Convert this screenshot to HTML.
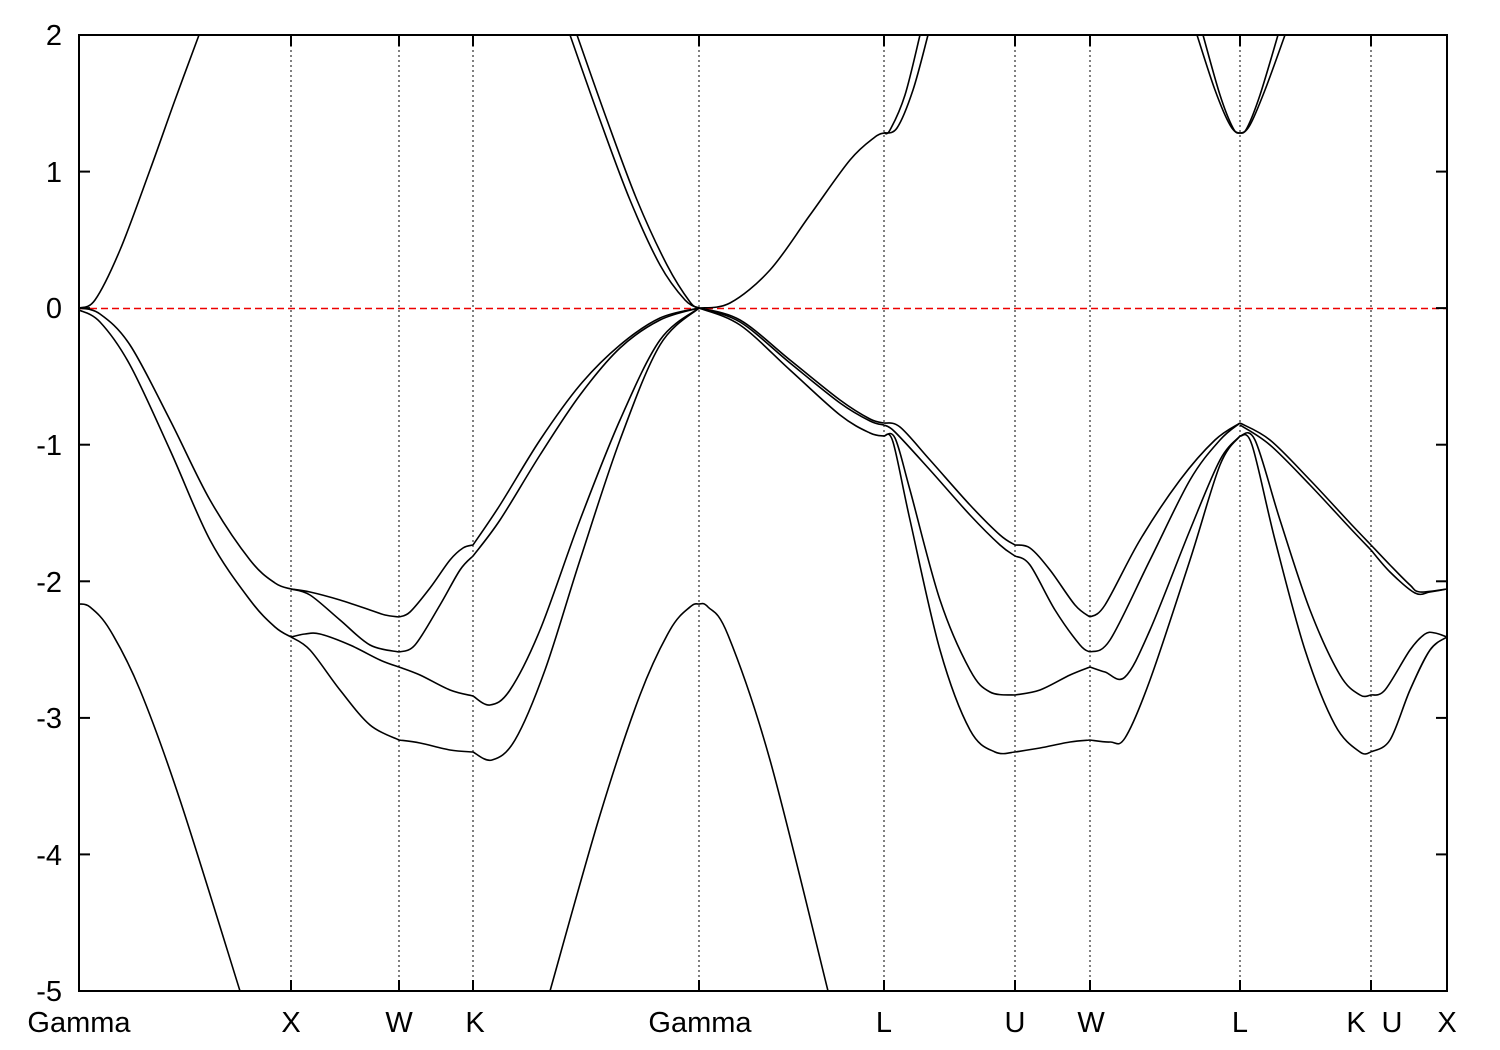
<!DOCTYPE html>
<html><head><meta charset="utf-8"><style>
body{margin:0;background:#fff;}
svg{display:block;}
text{font-family:"Liberation Sans",sans-serif;font-size:29px;fill:#000;}
</style></head><body>
<svg id="s" width="1500" height="1050" xmlns="http://www.w3.org/2000/svg">
<g stroke="#000" stroke-width="1" stroke-dasharray="2,3">
<line x1="291" y1="35" x2="291" y2="991"/><line x1="399" y1="35" x2="399" y2="991"/>
<line x1="473" y1="35" x2="473" y2="991"/><line x1="699" y1="35" x2="699" y2="991"/>
<line x1="884" y1="35" x2="884" y2="991"/><line x1="1015" y1="35" x2="1015" y2="991"/>
<line x1="1090" y1="35" x2="1090" y2="991"/><line x1="1240" y1="35" x2="1240" y2="991"/>
<line x1="1371" y1="35" x2="1371" y2="991"/>
</g>
<line x1="79" y1="308.5" x2="1447" y2="308.5" stroke="#e00" stroke-width="1.5" stroke-dasharray="7,4"/>
<g id="curves" fill="none" stroke="#000" stroke-width="1.6"></g>
<rect x="79" y="35" width="1368" height="956" fill="none" stroke="#000" stroke-width="2"/>
<g stroke="#000" stroke-width="2">
<line x1="79" y1="35" x2="90" y2="35"/><line x1="1436" y1="35" x2="1447" y2="35"/>
<line x1="79" y1="171.6" x2="90" y2="171.6"/><line x1="1436" y1="171.6" x2="1447" y2="171.6"/>
<line x1="79" y1="308.1" x2="90" y2="308.1"/><line x1="1436" y1="308.1" x2="1447" y2="308.1"/>
<line x1="79" y1="444.7" x2="90" y2="444.7"/><line x1="1436" y1="444.7" x2="1447" y2="444.7"/>
<line x1="79" y1="581.3" x2="90" y2="581.3"/><line x1="1436" y1="581.3" x2="1447" y2="581.3"/>
<line x1="79" y1="717.9" x2="90" y2="717.9"/><line x1="1436" y1="717.9" x2="1447" y2="717.9"/>
<line x1="79" y1="854.4" x2="90" y2="854.4"/><line x1="1436" y1="854.4" x2="1447" y2="854.4"/>
<path d="M291,991v-11M399,991v-11M473,991v-11M699,991v-11M884,991v-11M1015,991v-11M1090,991v-11M1240,991v-11M1371,991v-11M291,35v11M399,35v11M473,35v11M699,35v11M884,35v11M1015,35v11M1090,35v11M1240,35v11M1371,35v11"/>
</g>
<g text-anchor="end">
<text x="62" y="45">2</text><text x="62" y="182">1</text><text x="62" y="318">0</text>
<text x="62" y="455">-1</text><text x="62" y="592">-2</text><text x="62" y="728">-3</text>
<text x="62" y="865">-4</text><text x="62" y="1001">-5</text>
</g>
<g text-anchor="middle">
<text x="79" y="1032">Gamma</text><text x="291" y="1032">X</text><text x="399" y="1032">W</text>
<text x="475" y="1032">K</text><text x="700" y="1032">Gamma</text><text x="884" y="1032">L</text>
<text x="1015" y="1032">U</text><text x="1091" y="1032">W</text><text x="1240" y="1032">L</text>
<text x="1356" y="1032">K</text><text x="1392" y="1032">U</text><text x="1447" y="1032">X</text>
</g>
</svg>
<script>
var S=[
[79,308,100,314,130,345,170,420,210,500,250,560,275,583,291,589],
[79,310,100,322,130,365,170,450,210,540,250,600,275,627,291,637],
[79,308,95,300,120,250,150,170,175,100,199,35],
[79,604,90,607,110,630,140,690,180,800,240,991],
[291,589,310,592,340,600,370,610,385,615,399,617],
[291,589,310,595,340,620,370,645,399,652],
[291,637,305,634,320,634,350,645,380,660,399,667],
[291,637,310,650,340,690,370,725,399,740],
[399,617,410,612,430,588,450,560,463,548,473,545],
[399,652,415,645,440,605,460,570,473,556],
[399,667,420,675,450,690,473,696],
[399,740,420,743,450,750,473,752],
[473,545,500,505,540,440,580,385,620,345,660,318,699,308],
[473,556,500,520,540,455,580,395,620,348,660,320,699,308],
[473,696,490,705,510,690,540,630,580,520,620,420,660,340,699,308],
[473,752,492,760,515,740,545,670,580,560,620,440,660,345,699,308],
[570,35,600,120,630,200,660,265,685,300,699,308],
[577,35,607,120,637,200,667,265,690,302,699,308],
[550,991,600,815,640,695,670,630,690,607,699,604,708,607,728,635,770,760,828,991],
[699,308,730,303,770,270,810,215,850,160,875,137,884,133],
[699,308,740,320,790,360,840,400,870,419,884,423],
[699,308,740,322,790,363,840,403,870,421,884,425],
[699,308,740,325,790,370,840,415,870,433,884,436],
[884,133,890,130,905,95,920,35],
[884,133,897,128,913,90,928,35],
[884,423,900,427,930,460,970,505,1000,535,1015,545],
[884,425,895,432,930,470,970,515,1000,545,1015,556],
[884,436,895,438,910,490,940,600,970,670,990,692,1015,695],
[884,436,893,442,910,520,940,650,970,730,995,752,1015,752],
[1015,545,1030,548,1050,570,1075,605,1090,617],
[1015,556,1030,565,1055,610,1080,645,1090,652],
[1015,695,1040,690,1070,675,1090,667],
[1015,752,1040,748,1070,742,1090,740],
[1090,617,1105,605,1140,540,1180,480,1215,440,1240,423],
[1090,652,1110,640,1150,560,1190,480,1220,440,1240,423],
[1090,667,1105,672,1125,677,1150,630,1190,530,1220,460,1240,436],
[1090,740,1110,742,1125,738,1150,680,1190,560,1220,465,1240,436],
[1197,35,1215,90,1230,125,1240,133,1250,125,1265,90,1285,35],
[1203,35,1220,95,1233,128,1240,133,1247,128,1260,95,1278,35],
[1240,423,1270,440,1310,480,1350,523,1371,545],
[1240,425,1270,445,1310,485,1350,528,1371,550],
[1240,436,1255,440,1280,520,1310,610,1340,675,1360,695,1371,695],
[1240,436,1252,445,1275,540,1305,650,1335,725,1360,752,1371,752],
[1371,545,1390,565,1410,585,1420,592,1447,589],
[1371,550,1390,572,1415,593,1430,592,1447,589],
[1371,695,1385,690,1410,650,1425,634,1435,633,1447,637],
[1371,752,1390,740,1410,690,1430,650,1447,637]
];
var g=document.getElementById('curves');
S.forEach(function(a){
 var p=[];for(var i=0;i<a.length;i+=2)p.push([a[i],a[i+1]]);
 var d='M'+p[0][0]+','+p[0][1];
 for(var i=0;i<p.length-1;i++){
  var p0=p[i>0?i-1:i],p1=p[i],p2=p[i+1],p3=p[i+2<p.length?i+2:i+1];
  var c1=[p1[0]+(p2[0]-p0[0])/6,p1[1]+(p2[1]-p0[1])/6];
  var c2=[p2[0]-(p3[0]-p1[0])/6,p2[1]-(p3[1]-p1[1])/6];
  d+='C'+c1[0]+','+c1[1]+' '+c2[0]+','+c2[1]+' '+p2[0]+','+p2[1];
 }
 var e=document.createElementNS('http://www.w3.org/2000/svg','path');
 e.setAttribute('d',d);g.appendChild(e);
});
</script>
</body></html>
